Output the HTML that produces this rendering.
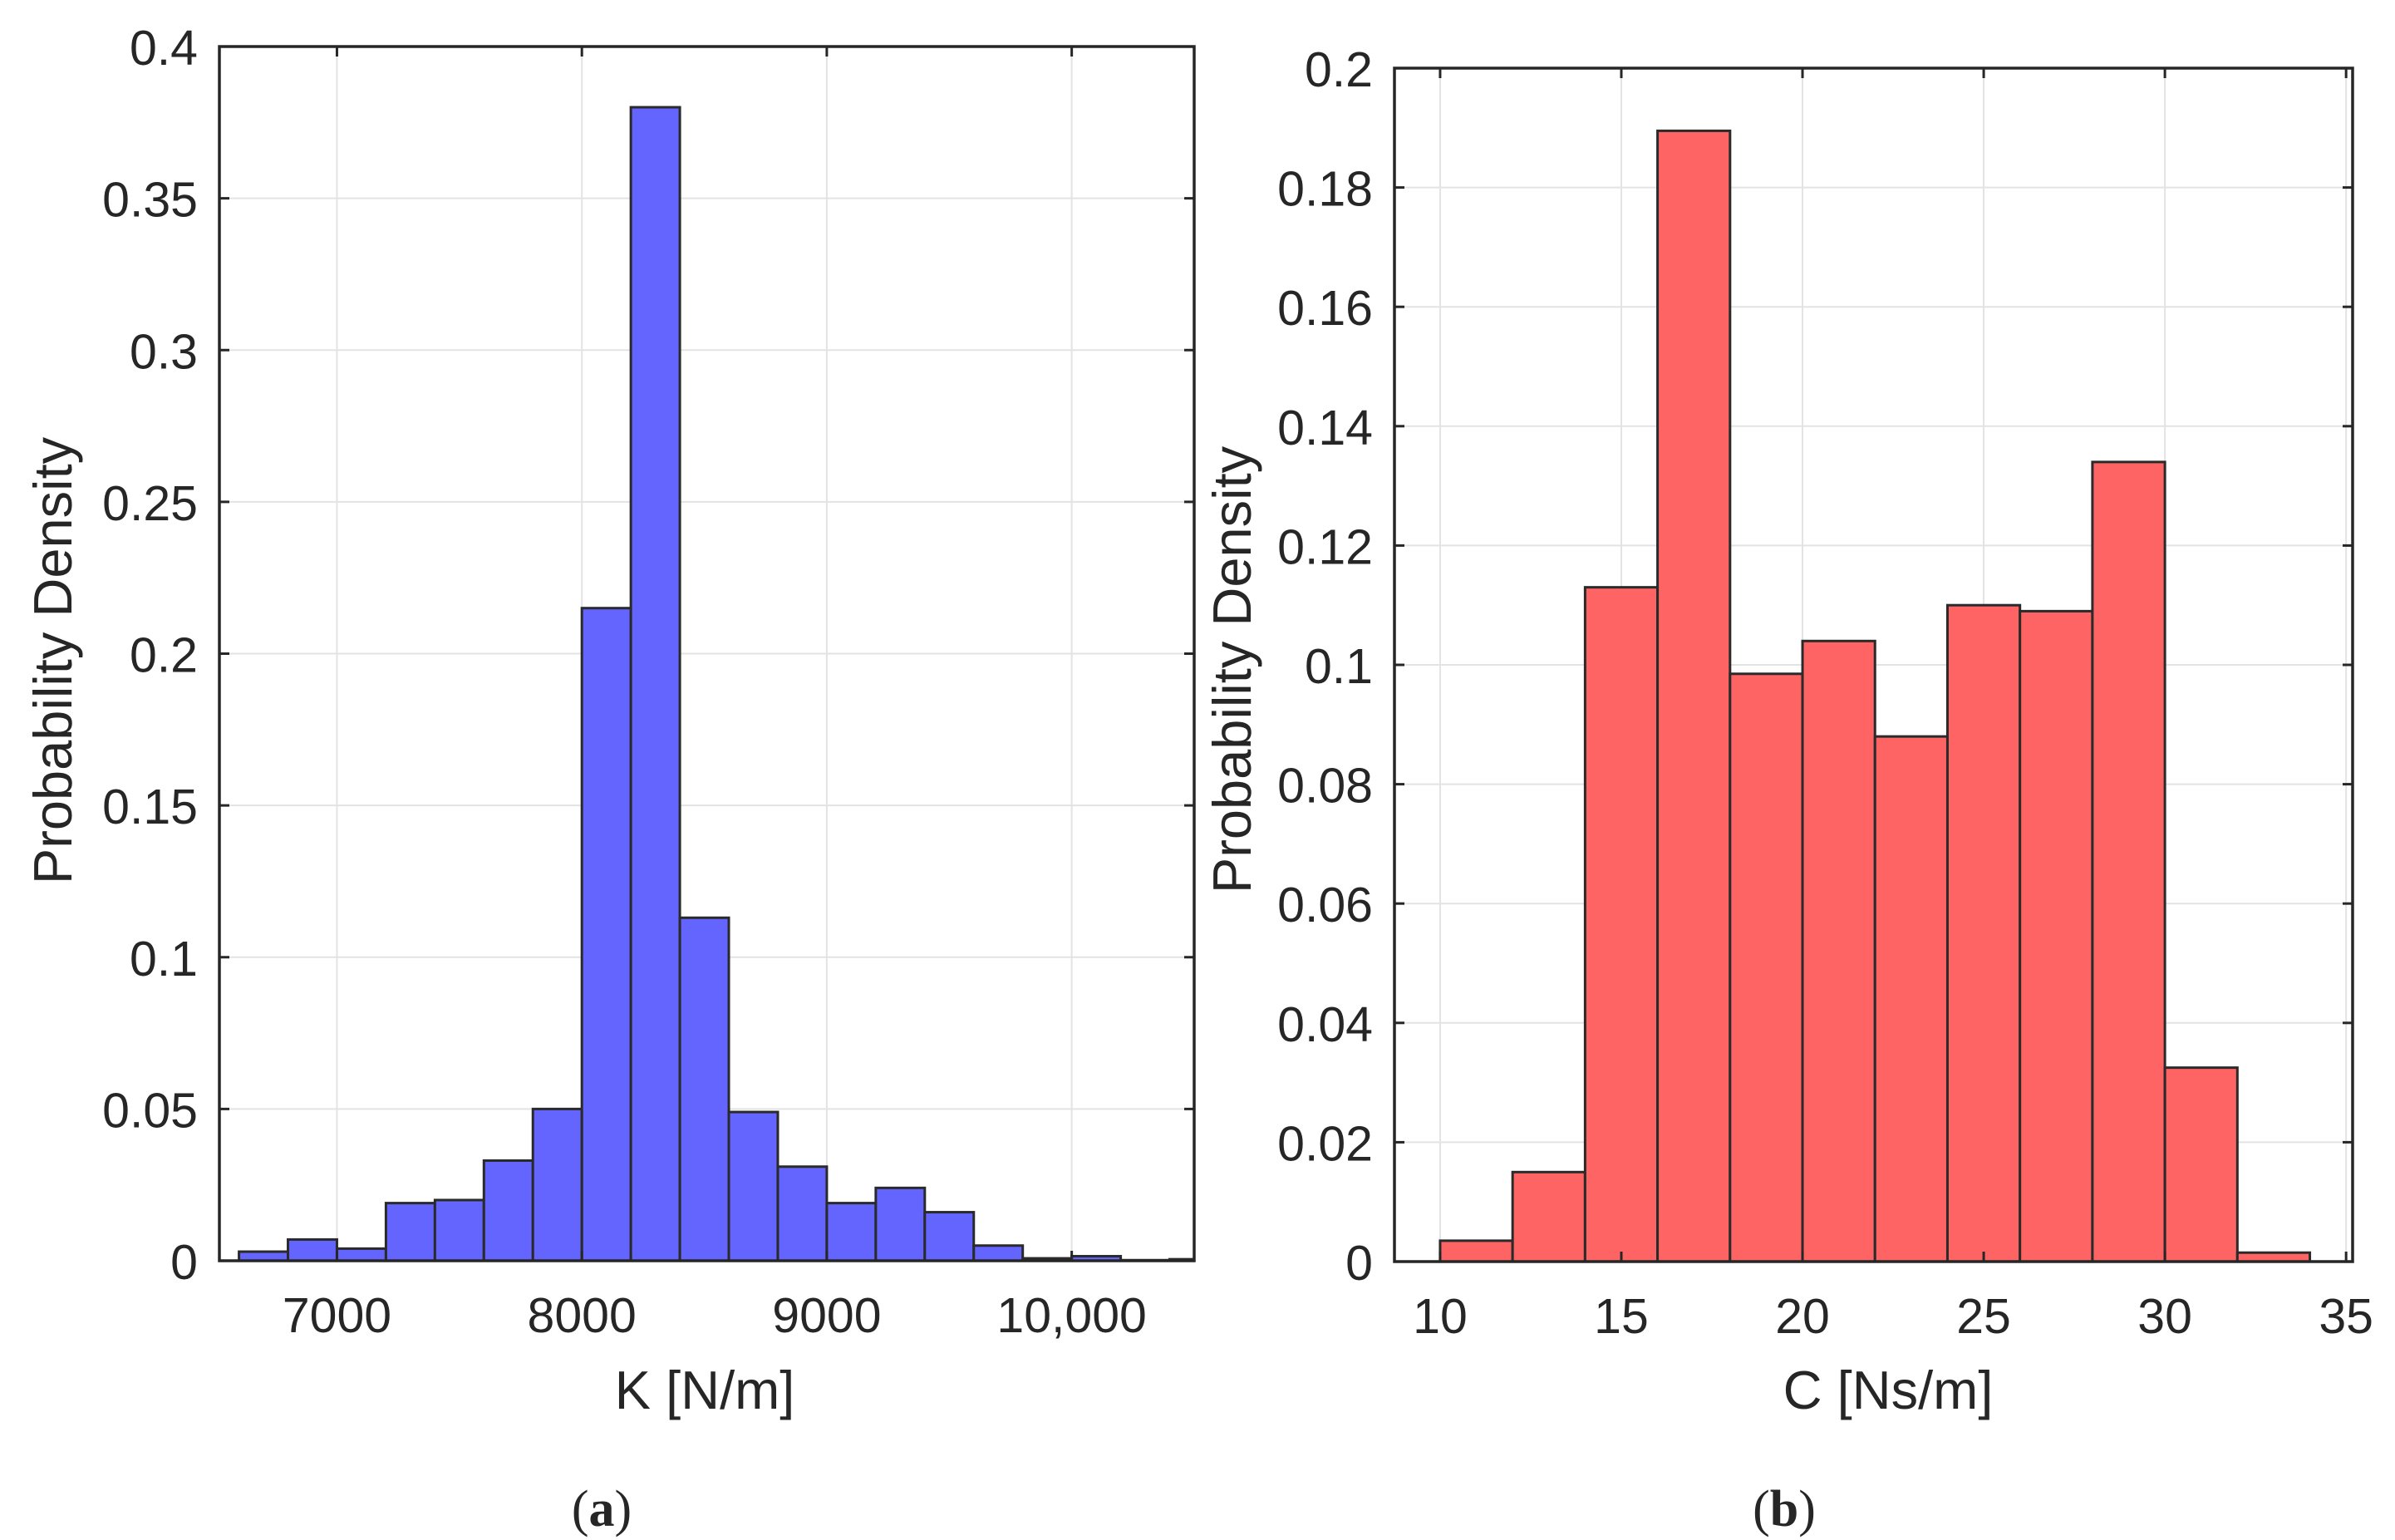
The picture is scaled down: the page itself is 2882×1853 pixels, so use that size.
<!DOCTYPE html>
<html><head><meta charset="utf-8"><style>
html,body{margin:0;padding:0;background:#fff;}
svg{display:block;}
text{font-family:"Liberation Sans",Arial,sans-serif;fill:#262626;}
</style></head>
<body>
<svg id="fig" width="2882" height="1853" viewBox="0 0 2882 1853" xmlns="http://www.w3.org/2000/svg">
<defs>
<clipPath id="clipA"><rect x="264" y="56" width="1173" height="1461"/></clipPath>
<clipPath id="clipB"><rect x="1678" y="82" width="1153" height="1436"/></clipPath>
</defs>
<rect width="2882" height="1853" fill="#fff"/>
<g id="chartA"></g>
<g id="chartB"></g>
<text x="848" y="1695" font-size="65" text-anchor="middle">K [N/m]</text>
<text x="2272" y="1695" font-size="65" text-anchor="middle">C [Ns/m]</text>
<text x="64" y="795" font-size="65" text-anchor="middle" transform="rotate(-90 64 795)" dy="22">Probability Density</text>
<text x="1483" y="806" font-size="65" text-anchor="middle" transform="rotate(-90 1483 806)" dy="22">Probability Density</text>
<text x="724" y="1836" font-size="62" text-anchor="middle" style="font-family:'Liberation Serif',serif">(<tspan font-weight="bold">a</tspan>)</text>
<text x="2147" y="1836" font-size="62" text-anchor="middle" style="font-family:'Liberation Serif',serif">(<tspan font-weight="bold">b</tspan>)</text>
</svg>
<script>
const kBinStart = 6600;
const kBinWidth = 200;
const kDensity = [0.003,0.007,0.004,0.019,0.020,0.033,0.050,0.215,0.380,0.113,0.049,0.031,0.019,0.024,0.016,0.005,0.0008,0.0015,0.0002,0.0005];
const kXTicks = [7000,8000,9000,10000];
const kXTickLabels = ["7000","8000","9000","10,000"];
const kYTicks = [0,0.05,0.1,0.15,0.2,0.25,0.3,0.35,0.4];
const kYTickLabels = ["0","0.05","0.1","0.15","0.2","0.25","0.3","0.35","0.4"];

const cBinStart = 10;
const cBinWidth = 2;
const cDensity = [0.0035,0.015,0.113,0.1895,0.0985,0.104,0.088,0.110,0.109,0.134,0.0325,0.0015];
const cXTicks = [10,15,20,25,30,35];
const cXTickLabels = ["10","15","20","25","30","35"];
const cYTicks = [0,0.02,0.04,0.06,0.08,0.1,0.12,0.14,0.16,0.18,0.2];
const cYTickLabels = ["0","0.02","0.04","0.06","0.08","0.1","0.12","0.14","0.16","0.18","0.2"];

const NS = "http://www.w3.org/2000/svg";
function mk(tag, attrs, parent){
  const e = document.createElementNS(NS, tag);
  for (const k in attrs) e.setAttribute(k, attrs[k]);
  parent.appendChild(e);
  return e;
}
function drawChart(g, cfg){
  const sx = v => cfg.x0 + (v - cfg.xmin) / (cfg.xmax - cfg.xmin) * (cfg.x1 - cfg.x0);
  const sy = v => cfg.y1 - (v - cfg.ymin) / (cfg.ymax - cfg.ymin) * (cfg.y1 - cfg.y0);
  cfg.xTicks.forEach(t => {
    const gl = mk('line', {x1:sx(t), x2:sx(t), y1:cfg.y0, y2:cfg.y1, stroke:'#e3e3e3', 'stroke-width':2}, g);
    
    
  });
  cfg.yTicks.forEach(t => {
    const gl = mk('line', {x1:cfg.x0, x2:cfg.x1, y1:sy(t), y2:sy(t), stroke:'#e3e3e3', 'stroke-width':2}, g);
    
    
  });
  const bars = mk('g', {'clip-path':'url(#' + cfg.clip + ')'}, g);
  
  
  cfg.values.forEach((v, i) => {
    const a = sx(cfg.start + i * cfg.width), b = sx(cfg.start + (i + 1) * cfg.width);
    const r = mk('rect', {x:a, y:sy(v), width:b - a, height:sy(0) - sy(v), fill:cfg.fill, stroke:'#2a2a2a', 'stroke-width':3}, bars);
    
    
  });
  cfg.xTicks.forEach((t, i) => {
    mk('line', {x1:sx(t), x2:sx(t), y1:cfg.y1, y2:cfg.y1 - 12, stroke:'#262626', 'stroke-width':3}, g);
    mk('line', {x1:sx(t), x2:sx(t), y1:cfg.y0, y2:cfg.y0 + 12, stroke:'#262626', 'stroke-width':3}, g);
    const tx = mk('text', {x:sx(t), y:cfg.y1 + 86, 'font-size':59, 'text-anchor':'middle'}, g);
    tx.textContent = cfg.xLabels[i];
    
    
  });
  cfg.yTicks.forEach((t, i) => {
    mk('line', {x1:cfg.x0, x2:cfg.x0 + 12, y1:sy(t), y2:sy(t), stroke:'#262626', 'stroke-width':3}, g);
    mk('line', {x1:cfg.x1, x2:cfg.x1 - 12, y1:sy(t), y2:sy(t), stroke:'#262626', 'stroke-width':3}, g);
    const tx = mk('text', {x:cfg.x0 - 26, y:sy(t) + 22, 'font-size':59, 'text-anchor':'end'}, g);
    tx.textContent = cfg.yLabels[i];
    
    
  });
  const box = mk('rect', {x:cfg.x0, y:cfg.y0, width:cfg.x1 - cfg.x0, height:cfg.y1 - cfg.y0, fill:'none', stroke:'#262626', 'stroke-width':3.5}, g);
  
  
}
drawChart(document.getElementById('chartA'), {
  x0:264, x1:1437, y0:56, y1:1517, xmin:6520, xmax:10500, ymin:0, ymax:0.4, clip:'clipA',
  values:kDensity, start:kBinStart, width:kBinWidth, fill:'#6464ff',
  xTicks:kXTicks, xLabels:kXTickLabels, yTicks:kYTicks, yLabels:kYTickLabels
});
drawChart(document.getElementById('chartB'), {
  x0:1678, x1:2831, y0:82, y1:1518, xmin:8.74, xmax:35.18, ymin:0, ymax:0.2, clip:'clipB',
  values:cDensity, start:cBinStart, width:cBinWidth, fill:'#ff6464',
  xTicks:cXTicks, xLabels:cXTickLabels, yTicks:cYTicks, yLabels:cYTickLabels
});
</script>
</body></html>
